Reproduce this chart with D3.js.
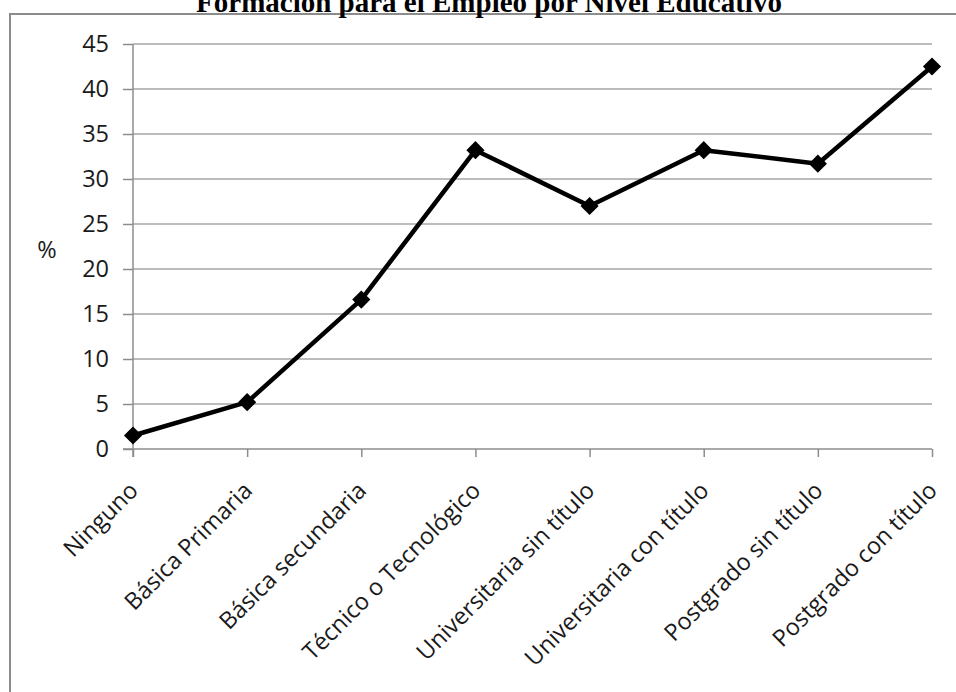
<!DOCTYPE html>
<html>
<head>
<meta charset="utf-8">
<script src="https://cdnjs.cloudflare.com/ajax/libs/d3/7.8.5/d3.min.js"></script>
<style>
  body { margin: 0; background: #fff; }
  svg { display: block; }
</style>
</head>
<body>
<div id="chart"></div>
<script>
const categories = ["Ninguno", "Básica Primaria", "Básica secundaria", "Técnico o Tecnológico",
  "Universitaria sin título", "Universitaria con título", "Postgrado sin título", "Postgrado con título"];
const values = [1.5, 5.2, 16.6, 33.2, 27.0, 33.2, 31.7, 42.5];
const yTicks = [0, 5, 10, 15, 20, 25, 30, 35, 40, 45];
const title = "Formación para el Empleo por Nivel Educativo";

const width = 956, height = 692;
const font = "'Open Sans', sans-serif";
const fontSize = "23.5px";

const svg = d3.select("#chart").append("svg")
  .attr("width", width)
  .attr("height", height);

// chart border (runs off the right and bottom of the picture)
svg.append("rect")
  .attr("x", 10).attr("y", 14)
  .attr("width", 1000).attr("height", 800)
  .attr("fill", "none")
  .attr("stroke", "#8c8c8c")
  .attr("stroke-width", 2);

svg.append("text")
  .attr("x", 489).attr("y", 12)
  .attr("text-anchor", "middle")
  .style("font-family", "'Liberation Serif', 'Times New Roman', serif")
  .style("font-weight", "bold")
  .style("font-size", "29px")
  .text(title);

const x = d3.scalePoint().domain(categories).range([133, 932]);
const y = d3.scaleLinear().domain([0, 45]).range([449, 44]);

// horizontal gridlines
svg.append("g")
  .selectAll("line")
  .data(yTicks.slice(1))
  .enter().append("line")
  .attr("x1", 133).attr("x2", 932)
  .attr("y1", d => y(d)).attr("y2", d => y(d))
  .attr("stroke", "#a6a6a6")
  .attr("stroke-width", 1.5);

const yAxis = svg.append("g")
  .attr("transform", "translate(133,0)")
  .call(d3.axisLeft(y).tickValues(yTicks).tickSize(10).tickPadding(14));
yAxis.select(".domain").attr("stroke", "#8c8c8c").attr("stroke-width", 1.5)
  .attr("d", "M0," + y(45) + "V" + (y(0) + 8));
yAxis.selectAll(".tick line").attr("stroke", "#8c8c8c").attr("stroke-width", 1.5);
yAxis.selectAll(".tick text")
  .style("font-family", font).style("font-size", fontSize).attr("fill", "#1a1a1a");

const xAxis = svg.append("g")
  .attr("transform", "translate(0," + y(0) + ")")
  .call(d3.axisBottom(x).tickSize(8).tickSizeOuter(0));
xAxis.select(".domain").attr("stroke", "#8c8c8c").attr("stroke-width", 1.5)
  .attr("d", "M123,0H932");
xAxis.selectAll(".tick line").attr("stroke", "#8c8c8c").attr("stroke-width", 1.5);
xAxis.selectAll(".tick text")
  .style("font-family", font).style("font-size", fontSize).attr("fill", "#1a1a1a")
  .attr("text-anchor", "end")
  .attr("y", 0).attr("dy", 0)
  .attr("transform", "translate(6,43) rotate(-45)");

svg.append("text")
  .attr("x", 47).attr("y", 258)
  .attr("text-anchor", "middle")
  .style("font-family", font).style("font-size", fontSize).attr("fill", "#1a1a1a")
  .text("%");

const line = d3.line()
  .x((d, i) => x(categories[i]))
  .y(d => y(d));

svg.append("path")
  .datum(values)
  .attr("d", line)
  .attr("fill", "none")
  .attr("stroke", "#000")
  .attr("stroke-width", 4.5)
  .attr("stroke-linejoin", "round");

svg.append("g")
  .selectAll("path")
  .data(values)
  .enter().append("path")
  .attr("d", d3.symbol(d3.symbolSquare, 165))
  .attr("transform", (d, i) => "translate(" + x(categories[i]) + "," + y(d) + ") rotate(45)")
  .attr("fill", "#000");
</script>
</body>
</html>
